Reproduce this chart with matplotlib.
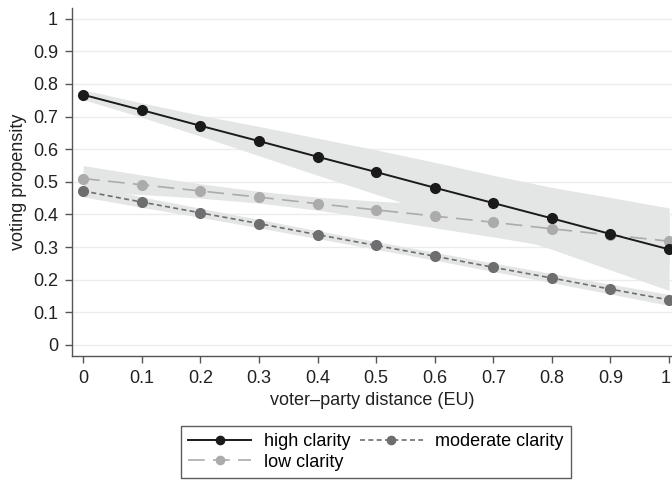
import matplotlib
matplotlib.use("Agg")
import matplotlib.pyplot as plt
import matplotlib.transforms as mtransforms
import numpy as np

distance = [0, 0.1, 0.2, 0.3, 0.4, 0.5, 0.6, 0.7, 0.8, 0.9, 1.0]
x_tick_labels = ["0", "0.1", "0.2", "0.3", "0.4", "0.5", "0.6", "0.7", "0.8", "0.9", "1"]
y_tick_labels = ["0", "0.1", "0.2", "0.3", "0.4", "0.5", "0.6", "0.7", "0.8", "0.9", "1"]

high = [0.767, 0.720, 0.672, 0.625, 0.577, 0.530, 0.482, 0.435, 0.388, 0.340, 0.293]
high_lo = [0.752, 0.698, 0.640, 0.580, 0.520, 0.462, 0.404, 0.350, 0.293, 0.230, 0.167]
high_hi = [0.782, 0.742, 0.704, 0.670, 0.634, 0.598, 0.560, 0.520, 0.483, 0.452, 0.420]

moderate = [0.472, 0.438, 0.405, 0.372, 0.338, 0.305, 0.272, 0.238, 0.205, 0.171, 0.138]
moderate_lo = [0.454, 0.422, 0.391, 0.359, 0.326, 0.293, 0.260, 0.225, 0.191, 0.156, 0.121]
moderate_hi = [0.490, 0.454, 0.419, 0.385, 0.350, 0.317, 0.284, 0.251, 0.219, 0.186, 0.155]

low = [0.510, 0.491, 0.472, 0.453, 0.433, 0.414, 0.395, 0.376, 0.356, 0.337, 0.318]
low_lo = [0.470, 0.461, 0.450, 0.435, 0.413, 0.387, 0.359, 0.331, 0.301, 0.272, 0.243]
low_hi = [0.550, 0.521, 0.494, 0.471, 0.453, 0.441, 0.431, 0.421, 0.411, 0.402, 0.393]

plt.rcParams['font.family'] = ['Liberation Sans', 'DejaVu Sans']

fig = plt.figure(figsize=(6.72, 4.8), dpi=100)
ax = fig.add_axes([72/672, 1-356/480, 1-72/672, (356-8)/480])

band = "#e4e5e5"
ax.fill_between(distance, high_lo, high_hi, color=band, lw=0, zorder=1)
ax.fill_between(distance, moderate_lo, moderate_hi, color=band, lw=0, zorder=1)
ax.fill_between(distance, low_lo, low_hi, color=band, lw=0, zorder=1)

ax.plot(distance, moderate, color="#6e6e70", lw=1.2, ls=(0, (3, 2)), marker="o", ms=7,
        mfc="#6e6e70", mec="#6e6e70", zorder=3, clip_on=False, label="moderate clarity")
ax.plot(distance, low, color="#ababab", lw=1.2, ls=(0, (10, 5)), marker="o", ms=7,
        mfc="#ababab", mec="#ababab", zorder=3, clip_on=False, label="low clarity")
ax.plot(distance, high, color="#1a1a1a", lw=1.4, ls="-", marker="o", ms=7,
        mfc="#1a1a1a", mec="#1a1a1a", zorder=4, clip_on=False, label="high clarity")

ax.set_xlim(-0.019, 1.005)
ax.set_ylim(-0.034, 1.033)
ticks = np.arange(11) / 10
ax.set_xticks(ticks)
ax.set_xticklabels(x_tick_labels)
ax.set_yticks(ticks)
ax.set_yticklabels(y_tick_labels)
ax.yaxis.grid(True, color="#ececec", lw=1.0, zorder=0)
ax.set_axisbelow(True)

for s in ["top", "right"]:
    ax.spines[s].set_visible(False)
for s in ["left", "bottom"]:
    ax.spines[s].set_color("#555555")
    ax.spines[s].set_linewidth(1.0)
ax.tick_params(axis="both", direction="out", length=5, width=1, color="#555555",
               labelsize=13, labelcolor="#222222", pad=5)

last = ax.get_xticklabels()[-1]
last.set_transform(last.get_transform() +
                   mtransforms.ScaledTranslation(-3/100, 0, fig.dpi_scale_trans))

ax.set_xlabel("voter\u2013party distance (EU)", fontsize=13, color="#222222", labelpad=4)
ax.set_ylabel("voting propensity", fontsize=13, color="#222222", labelpad=4)

handles, labels = ax.get_legend_handles_labels()
order = [2, 1, 0]
leg = fig.legend([handles[i] for i in order], [labels[i] for i in order],
                 loc="lower center", bbox_to_anchor=(376/672, 2/480), ncol=2,
                 frameon=True, fancybox=False, edgecolor="#333333", fontsize=13,
                 handlelength=3.5, columnspacing=0.5, handletextpad=0.7,
                 borderpad=0.4, labelspacing=0.2, borderaxespad=0.0, markerscale=0.85)
leg.get_frame().set_linewidth(1.0)

fig.savefig("out.png", dpi=100)
